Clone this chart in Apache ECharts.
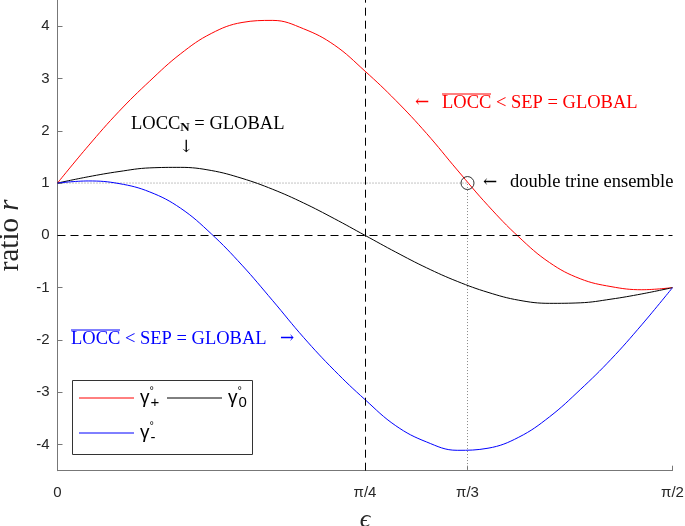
<!DOCTYPE html>
<html>
<head>
<meta charset="utf-8">
<script src="https://cdn.jsdelivr.net/npm/echarts@6/dist/echarts.min.js"></script>
<style>
  html, body { margin: 0; padding: 0; background: #fff; }
  #main { width: 685px; height: 526px; }
</style>
</head>
<body>
<div id="main"></div>
<script>
// epsilon in degrees (90 = pi/2)
var eps = [0, 4.5, 9, 13.5, 18, 22.5, 27, 31.5, 36, 40.5, 45, 49.5, 54, 58.5, 63, 67.5, 72, 76.5, 81, 85.5, 90];
// gamma_+ (red)
var gPlus = [1.00, 1.71, 2.37, 2.95, 3.47, 3.86, 4.07, 4.11, 3.95, 3.64, 3.14, 2.58, 1.95, 1.25, 0.57, -0.03, -0.52, -0.83, -0.98, -1.04, -1.00];
// gamma_0 (black)
var gZero = [1.00, 1.12, 1.22, 1.29, 1.30, 1.24, 1.09, 0.88, 0.62, 0.32, 0.00, -0.32, -0.62, -0.88, -1.09, -1.24, -1.30, -1.29, -1.22, -1.12, -1.00];
// gamma_- (blue)
var gMinus = [1.00, 1.04, 0.99, 0.83, 0.52, 0.03, -0.57, -1.25, -1.95, -2.58, -3.14, -3.64, -3.95, -4.11, -4.07, -3.86, -3.47, -2.95, -2.37, -1.71, -1.00];

var xTicks = [0, 45, 60, 90];
var xTickLabels = {0: '0', 45: 'π/4', 60: 'π/3', 90: 'π/2'};
var yTicks = [-4, -3, -2, -1, 0, 1, 2, 3, 4];
var trinePoint = [60, 1];

var colors = { gp: '#ff0000', g0: '#000000', gm: '#0000ff' };

function pairs(ys) {
  return eps.map(function (x, i) { return [x, ys[i]]; });
}

var chart = echarts.init(document.getElementById('main'));

var serif = 'Liberation Serif';

function curve(key, ys) {
  return {
    name: key,
    type: 'line',
    data: pairs(ys),
    smooth: 0.4,
    symbol: 'none',
    color: colors[key],
    lineStyle: { color: colors[key], width: 1 },
    itemStyle: { color: colors[key] },
    z: 3
  };
}

// hand-drawn legend (line swatch + gamma label)
var legendRich = {
  g: { fontFamily: 'Liberation Sans', fontSize: 19, lineHeight: 25, verticalAlign: 'middle', fill: '#000' },
  sup: { fontFamily: 'Liberation Sans', fontSize: 11, verticalAlign: 'top', width: 1, fill: '#000' },
  sub: { fontFamily: 'Liberation Sans', fontSize: 15, verticalAlign: 'bottom', fill: '#000' }
};
function legendEntry(x, y, color, subText) {
  return [
    { type: 'line', z: 101, shape: { x1: x, y1: y, x2: x + 55, y2: y }, style: { stroke: color, lineWidth: 1 } },
    {
      type: 'text', z: 101, x: x + 61, y: y,
      style: { text: '{g|γ}{sup|°}{sub|' + subText + '}', verticalAlign: 'middle', rich: legendRich }
    }
  ];
}

var graphics = [
  { type: 'rect', z: 100, shape: { x: 72.5, y: 380.5, width: 180, height: 74 }, style: { fill: '#fff', stroke: '#333', lineWidth: 1 } }
]
  .concat(legendEntry(79, 398, colors.gp, '+'))
  .concat(legendEntry(167, 398, colors.g0, '0'))
  .concat(legendEntry(79, 433, colors.gm, '-'))
  .concat([
    {
      type: 'text', x: 131, y: 124,
      style: {
        text: '{a|LOCC}{n|N}{a| = GLOBAL}',
        verticalAlign: 'middle',
        rich: {
          a: { fontFamily: serif, fontSize: 18.5, fill: '#000' },
          n: { fontFamily: serif, fontSize: 13, fontWeight: 'bold', fill: '#000', padding: [8, 0, 0, 0] }
        }
      }
    },
    { type: 'text', x: 186, y: 148, style: { text: '↓', font: '17px DejaVu Serif', fill: '#000', align: 'center', verticalAlign: 'middle' } },
    { type: 'text', x: 415, y: 103, style: { text: '←', font: '17px DejaVu Serif', fill: '#ff0000', verticalAlign: 'middle' } },
    { type: 'text', x: 442, y: 103, style: { text: 'LOCC < SEP = GLOBAL', font: '18.5px Liberation Serif', fill: '#ff0000', verticalAlign: 'middle' } },
    { type: 'line', shape: { x1: 442, y1: 94, x2: 491, y2: 94 }, style: { stroke: '#ff0000', lineWidth: 1 } },
    { type: 'text', x: 483, y: 183, style: { text: '←', font: '17px DejaVu Serif', fill: '#000', verticalAlign: 'middle' } },
    { type: 'text', x: 510, y: 182, style: { text: 'double trine ensemble', font: '18.5px Liberation Serif', fill: '#000', verticalAlign: 'middle' } },
    { type: 'text', x: 71, y: 339, style: { text: 'LOCC < SEP = GLOBAL', font: '18.5px Liberation Serif', fill: '#0000ff', verticalAlign: 'middle' } },
    { type: 'line', shape: { x1: 71, y1: 330, x2: 120, y2: 330 }, style: { stroke: '#0000ff', lineWidth: 1 } },
    { type: 'text', x: 280, y: 339, style: { text: '→', font: '17px DejaVu Serif', fill: '#0000ff', verticalAlign: 'middle' } }
  ]);

var option = {
  animation: false,
  backgroundColor: '#fff',
  grid: { left: 57.5, right: 12.5, top: 0, bottom: 55.3, outerBoundsMode: 'none' },
  xAxis: {
    type: 'value',
    min: 0,
    max: 90,
    name: 'ϵ',
    nameLocation: 'middle',
    nameGap: 36,
    nameTextStyle: { fontFamily: serif, fontSize: 26, fontStyle: 'italic', color: '#262626' },
    axisLine: { show: true, onZero: false, lineStyle: { color: '#777', width: 1 } },
    axisTick: { show: true, inside: true, length: 5, customValues: xTicks, lineStyle: { color: '#777' } },
    axisLabel: {
      customValues: xTicks,
      margin: 15,
      fontFamily: 'Liberation Sans',
      fontSize: 15,
      color: '#262626',
      formatter: function (v) { return xTickLabels[v]; }
    },
    splitLine: { show: false }
  },
  yAxis: {
    type: 'value',
    min: -4.5,
    max: 4.5,
    name: '{n|ratio }{i|r}',
    nameLocation: 'middle',
    nameGap: 18,
    nameTextStyle: {
      color: '#262626',
      rich: {
        n: { fontFamily: serif, fontSize: 29, color: '#262626' },
        i: { fontFamily: serif, fontSize: 29, fontStyle: 'italic', color: '#262626' }
      }
    },
    axisLine: { show: true, lineStyle: { color: '#777', width: 1 } },
    axisTick: { show: true, inside: true, length: 5, customValues: yTicks, lineStyle: { color: '#777' } },
    axisLabel: {
      customValues: yTicks,
      margin: 8,
      fontFamily: 'Liberation Sans',
      fontSize: 15,
      color: '#262626'
    },
    splitLine: { show: false }
  },
  series: [
    curve('gp', gPlus),
    curve('g0', gZero),
    curve('gm', gMinus),
    {
      // reference lines
      name: 'refs',
      type: 'line',
      data: [],
      markLine: {
        silent: true,
        symbol: 'none',
        label: { show: false },
        lineStyle: { color: '#000', type: [8, 5], width: 1 },
        data: [{ xAxis: 45 }, { yAxis: 0 }]
      },
      z: 2
    },
    {
      // dotted guides to the double trine point
      name: 'trineGuide',
      type: 'line',
      data: [[0, trinePoint[1]], trinePoint, [trinePoint[0], -4.5]],
      symbol: 'none',
      lineStyle: { color: '#888', type: [1, 2], width: 1 },
      z: 1
    },
    {
      name: 'trine',
      type: 'scatter',
      data: [trinePoint],
      symbol: 'circle',
      symbolSize: 13,
      itemStyle: { color: 'rgba(0,0,0,0)', borderColor: '#000', borderWidth: 1 },
      z: 4
    }
  ],
  graphic: graphics
};

chart.setOption(option);
</script>
</body>
</html>
